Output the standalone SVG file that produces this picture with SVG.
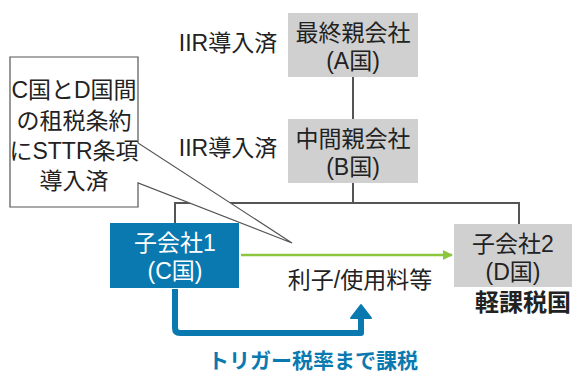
<svg xmlns="http://www.w3.org/2000/svg" width="575" height="376" viewBox="0 0 575 376">
<style>
text{font-family:"Liberation Sans","Noto Sans CJK JP",sans-serif;font-size:23px;fill:#222;text-anchor:middle}
.grey{fill:#d0d0d0}
.w{fill:#fff}
.ln{stroke:#555;stroke-width:2;fill:none}
.b{font-weight:bold}
</style>
<defs>
<marker id="ga" markerWidth="10" markerHeight="10" refX="9" refY="5" orient="auto" markerUnits="userSpaceOnUse"><path d="M0,0 L10,5 L0,10 Z" fill="#8cc63f"/></marker>
</defs>
<g id="connectors">
<path class="ln" d="M353,77 V119 M353,183 V203 M175,223 V203 H519 V224"/>
<path d="M241,255 H452" stroke="#8cc63f" stroke-width="2.5" marker-end="url(#ga)"/>
<path d="M175,289 V328 Q175,333 180,333 H361 V318" stroke="#0a79b0" stroke-width="6" fill="none" stroke-linejoin="round"/>
<path d="M351,318 L361,305 L371,318 Z" fill="#0a79b0" stroke="#0a79b0" stroke-width="2" stroke-linejoin="round"/>
</g>
<g id="nodeA">
<rect class="grey" x="288" y="13" width="130" height="64"/>
<text x="353" y="41">最終親会社<tspan x="353" dy="28">(A国)</tspan></text>
</g>
<g id="labelA"><text x="228" y="51">IIR導入済</text></g>
<g id="nodeB">
<rect class="grey" x="288" y="119" width="130" height="64"/>
<text x="353" y="147">中間親会社<tspan x="353" dy="28">(B国)</tspan></text>
</g>
<g id="labelB"><text x="228" y="156">IIR導入済</text></g>
<g id="nodeC">
<rect x="110" y="223" width="129" height="65" fill="#0a79b0"/>
<text x="175" y="251" class="w">子会社1<tspan x="175" dy="28">(C国)</tspan></text>
</g>
<g id="nodeD">
<rect class="grey" x="454" y="224" width="118" height="63"/>
<text x="513" y="252">子会社2<tspan x="513" dy="28">(D国)</tspan></text>
<text x="523" y="311" class="b" style="font-size:24px">軽課税国</text>
</g>
<g id="flowLabel"><text x="360" y="288">利子/使用料等</text></g>
<g id="taxLabel"><text x="313" y="368" class="b" style="fill:#0a79b0;font-size:21px">トリガー税率まで課税</text></g>
<g id="callout">
<path d="M10,57 H138 V143 L292,243 L138,183 V207 H10 Z" fill="#fff" stroke="#555" stroke-width="1.2"/>
<text x="74" y="98">C国とD国間<tspan x="74" dy="31">の租税条約</tspan><tspan x="74" dy="30">にSTTR条項</tspan><tspan x="74" dy="30">導入済</tspan></text>
</g>
</svg>
